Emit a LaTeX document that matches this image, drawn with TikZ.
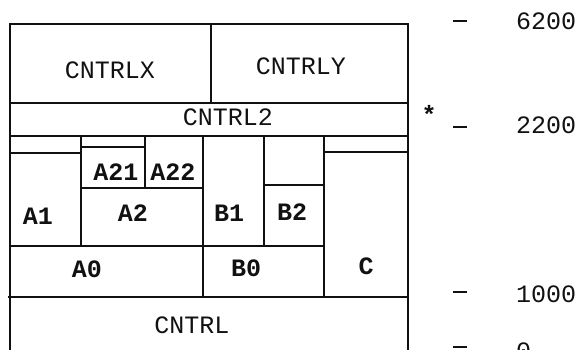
\documentclass[tikz,border=0pt]{standalone}
\usepackage{fontspec}
\setmonofont{Liberation Mono}
\usepackage{xcolor}
\definecolor{Ink}{HTML}{111111}
\begin{document}
\begin{tikzpicture}[x=1pt,y=-1pt, c/.style={draw=Ink,line width=1.2pt}, l/.style={font=\fontsize{25}{25}\selectfont\ttfamily,text=Ink,inner sep=0pt}, lb/.style={l,font=\fontsize{25}{25}\selectfont\ttfamily\bfseries}, t/.style={draw=Ink,line width=2.6pt}]
    \useasboundingbox (0,0) rectangle (580,349);
    % upper rows
    \draw[c] (10,24) rectangle (211,103); \draw[c] (211,24) rectangle (408,103); \draw[c] (10,103) rectangle (408,136);
    \node[l] (cx) at (110,70) {CNTRLX}; \node[l] (cy) at (301,66) {CNTRLY}; \node[l] (c2) at (228,117) {CNTRL2};
    % A part
    \draw[c] (10,136) rectangle (81,153); \draw[c] (10,153) rectangle (81,246);
    \draw[c] (81,136) rectangle (145,147); \draw[c] (81,147) rectangle (145,188); \draw[c] (145,136) rectangle (203,188);
    \draw[c] (81,188) rectangle (203,246);
    \node[lb] (a1) at (38,216) {A1}; \node[lb] (a21) at (116,172) {A21}; \node[lb] (a22) at (173,172) {A22}; \node[lb] (a2) at (133,213) {A2};
    % B and C part
    \draw[c] (203,136) rectangle (264,246); \draw[c] (264,136) rectangle (324,185); \draw[c] (264,185) rectangle (324,246);
    \draw[c] (324,136) rectangle (408,152); \draw[c] (324,152) rectangle (408,297);
    \node[lb] (b1) at (229,213) {B1}; \node[lb] (b2) at (292,212) {B2}; \node[lb] (cc) at (366,266) {C};
    \draw[c] (10,246) rectangle (203,297); \draw[c] (203,246) rectangle (324,297);
    \node[lb] (a0) at (87,269) {A0}; \node[lb] (b0) at (246,268) {B0};
    % bottom row, cut off
    \draw[c] (10,355) -- (10,297) -- (408,297) -- (408,355); \draw[c] (8,297) -- (10,297);
    \node[l] (cn) at (192,325) {CNTRL};
    % scale
    \node[lb] (st) at (429,114) {*};
    \draw[t] (453,21) -- (467,21); \node[l,anchor=west] (h1) at (516,21) {6200};
    \draw[t] (453,127) -- (467,127); \node[l,anchor=west] (h2) at (516,125) {2200};
    \draw[t] (453,292) -- (467,292); \node[l,anchor=west] (h3) at (516,294) {1000};
    \draw[t] (453,347) -- (467,347); \node[l,anchor=west] (h4) at (516,351) {0};
\end{tikzpicture}
\end{document}
